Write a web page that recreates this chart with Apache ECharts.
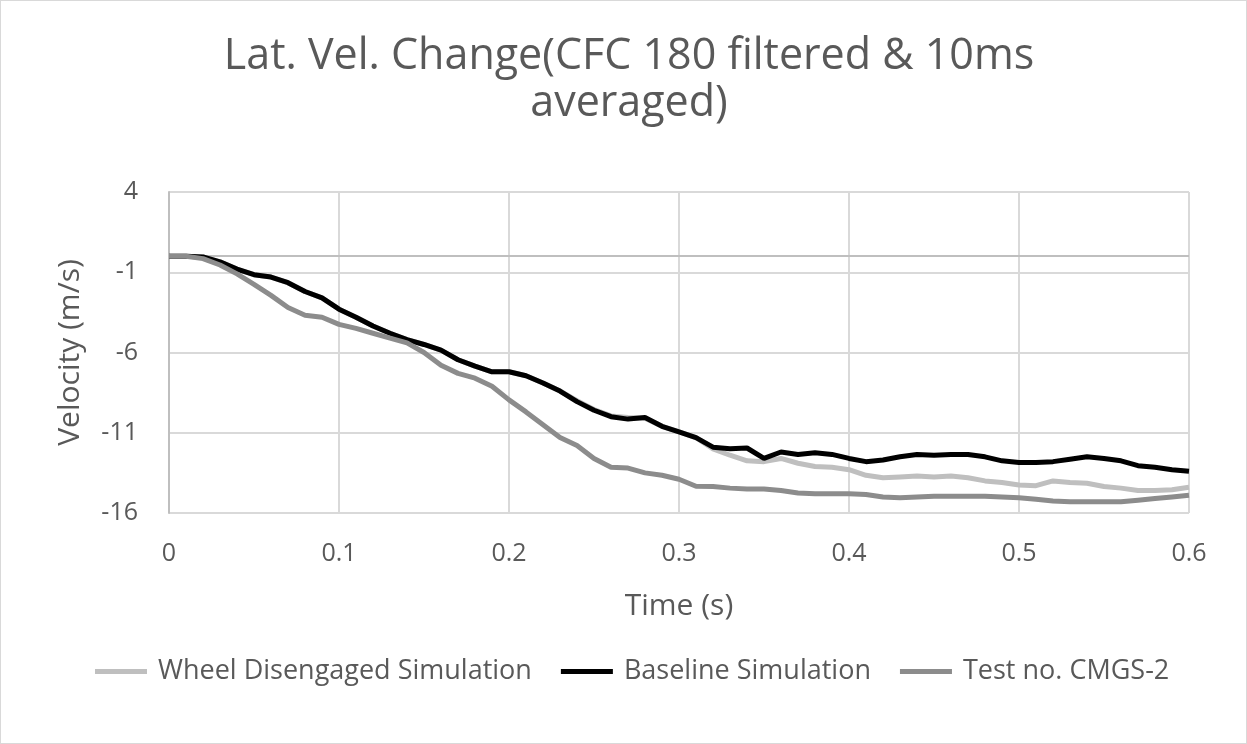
<!DOCTYPE html>
<html>
<head>
<meta charset="utf-8">
<script src="https://cdn.jsdelivr.net/npm/echarts@6/dist/echarts.min.js"></script>
<style>
html,body{margin:0;padding:0;background:#fff;}
#c{position:absolute;left:0;top:0;width:1245px;height:742px;border:1px solid #d9d9d9;}
</style>
</head>
<body>
<div id="c"></div>
<script>
const time = [0,0.01,0.02,0.03,0.04,0.05,0.06,0.07,0.08,0.09,0.10,0.11,0.12,0.13,0.14,0.15,0.16,0.17,0.18,0.19,0.20,0.21,0.22,0.23,0.24,0.25,0.26,0.27,0.28,0.29,0.30,0.31,0.32,0.33,0.34,0.35,0.36,0.37,0.38,0.39,0.40,0.41,0.42,0.43,0.44,0.45,0.46,0.47,0.48,0.49,0.50,0.51,0.52,0.53,0.54,0.55,0.56,0.57,0.58,0.59,0.60];
const baseline = [0,0,-0.05,-0.35,-0.8,-1.15,-1.3,-1.65,-2.2,-2.6,-3.3,-3.8,-4.35,-4.8,-5.2,-5.5,-5.85,-6.45,-6.85,-7.2,-7.2,-7.45,-7.9,-8.4,-9.06,-9.6,-10.0,-10.15,-10.05,-10.6,-10.95,-11.3,-11.9,-12.0,-11.95,-12.6,-12.2,-12.35,-12.25,-12.35,-12.6,-12.8,-12.7,-12.5,-12.35,-12.4,-12.35,-12.35,-12.5,-12.75,-12.85,-12.85,-12.8,-12.65,-12.5,-12.6,-12.75,-13.05,-13.15,-13.3,-13.4];
const wheelDisengaged = [0,0,-0.05,-0.35,-0.8,-1.15,-1.3,-1.65,-2.2,-2.6,-3.3,-3.8,-4.35,-4.8,-5.2,-5.5,-5.85,-6.45,-6.85,-7.2,-7.2,-7.45,-7.9,-8.4,-9.0,-9.55,-9.95,-10.05,-10.1,-10.6,-10.95,-11.3,-12.0,-12.4,-12.75,-12.8,-12.6,-12.9,-13.1,-13.15,-13.3,-13.65,-13.8,-13.75,-13.7,-13.75,-13.7,-13.8,-14.0,-14.1,-14.25,-14.3,-14.0,-14.1,-14.15,-14.35,-14.45,-14.6,-14.6,-14.55,-14.4];
const testCMGS2 = [0,0,-0.15,-0.55,-1.1,-1.75,-2.44,-3.2,-3.68,-3.8,-4.25,-4.5,-4.8,-5.1,-5.4,-6.0,-6.8,-7.3,-7.6,-8.1,-8.95,-9.7,-10.5,-11.3,-11.8,-12.6,-13.15,-13.2,-13.5,-13.65,-13.9,-14.33,-14.35,-14.45,-14.5,-14.5,-14.6,-14.75,-14.8,-14.8,-14.8,-14.85,-15.0,-15.05,-15.0,-14.95,-14.95,-14.95,-14.95,-15.0,-15.05,-15.15,-15.25,-15.3,-15.3,-15.3,-15.3,-15.2,-15.1,-15.0,-14.9];
const seriesNames = ['Wheel Disengaged Simulation','Baseline Simulation','Test no. CMGS-2'];
const xTicks = [0,0.1,0.2,0.3,0.4,0.5,0.6];
const yTicks = [-16,-11,-6,-1,4];

const pair = arr => time.map((t,i)=>[t,arr[i]]);
const font = '"Open Sans", "Noto Sans", sans-serif';
const chart = echarts.init(document.getElementById('c'), null, {renderer:'canvas'});
chart.setOption({
  animation:false,
  backgroundColor:'#fff',
  textStyle:{fontFamily:font},
  title:{
    text:'Lat. Vel. Change(CFC 180 filtered & 10ms\naveraged)',
    left:623, top:27, textAlign:'center',
    textStyle:{fontFamily:font, fontSize:43, fontWeight:'normal', color:'#595959', lineHeight:47}
  },
  grid:{left:168, right:57, top:191, bottom:230, containLabel:false},
  legend:{
    top:652, left:89,
    itemWidth:52, itemHeight:5, itemGap:29,
    icon:'rect',
    textStyle:{fontFamily:font, fontSize:27, color:'#595959', padding:[0,0,0,6]},
    data:seriesNames
  },
  xAxis:{
    type:'value', min:0, max:0.6, interval:0.1,
    name:'Time (s)', nameLocation:'middle', nameGap:78,
    nameTextStyle:{fontFamily:font, fontSize:30, color:'#595959'},
    axisLine:{show:false}, axisTick:{show:false},
    axisLabel:{fontFamily:font, fontSize:25, color:'#595959', margin:28,
      formatter:v=>{const r=Math.round(v*10)/10; return xTicks.indexOf(r)>=0 ? String(r) : '';}},
    splitLine:{show:true, lineStyle:{color:'#d9d9d9', width:2}}
  },
  yAxis:{
    type:'value', min:-16, max:4, interval:5,
    name:'Velocity (m/s)', nameLocation:'middle', nameGap:84, nameRotate:90,
    nameTextStyle:{fontFamily:font, fontSize:30, color:'#595959'},
    axisLine:{show:true, lineStyle:{color:'#bfbfbf', width:2}}, axisTick:{show:false},
    axisLabel:{fontFamily:font, fontSize:25, color:'#595959', margin:31,
      formatter:v=> yTicks.indexOf(v)>=0 ? String(v) : ''},
    splitLine:{show:true, lineStyle:{color:'#d9d9d9', width:2}}
  },
  series:[
    {name:seriesNames[0], type:'line', data:pair(wheelDisengaged), showSymbol:false, symbol:'none',
     lineStyle:{color:'#bfbfbf', width:5}, itemStyle:{color:'#bfbfbf'}, z:2,
     markLine:{silent:true, symbol:'none', label:{show:false}, lineStyle:{color:'#bfbfbf', width:2, type:'solid'},
       data:[{yAxis:0}], z:1}},
    {name:seriesNames[1], type:'line', data:pair(baseline), showSymbol:false, symbol:'none',
     lineStyle:{color:'#000000', width:5}, itemStyle:{color:'#000000'}, z:3},
    {name:seriesNames[2], type:'line', data:pair(testCMGS2), showSymbol:false, symbol:'none',
     lineStyle:{color:'#8c8c8c', width:5}, itemStyle:{color:'#8c8c8c'}, z:4}
  ]
});
</script>
</body>
</html>
